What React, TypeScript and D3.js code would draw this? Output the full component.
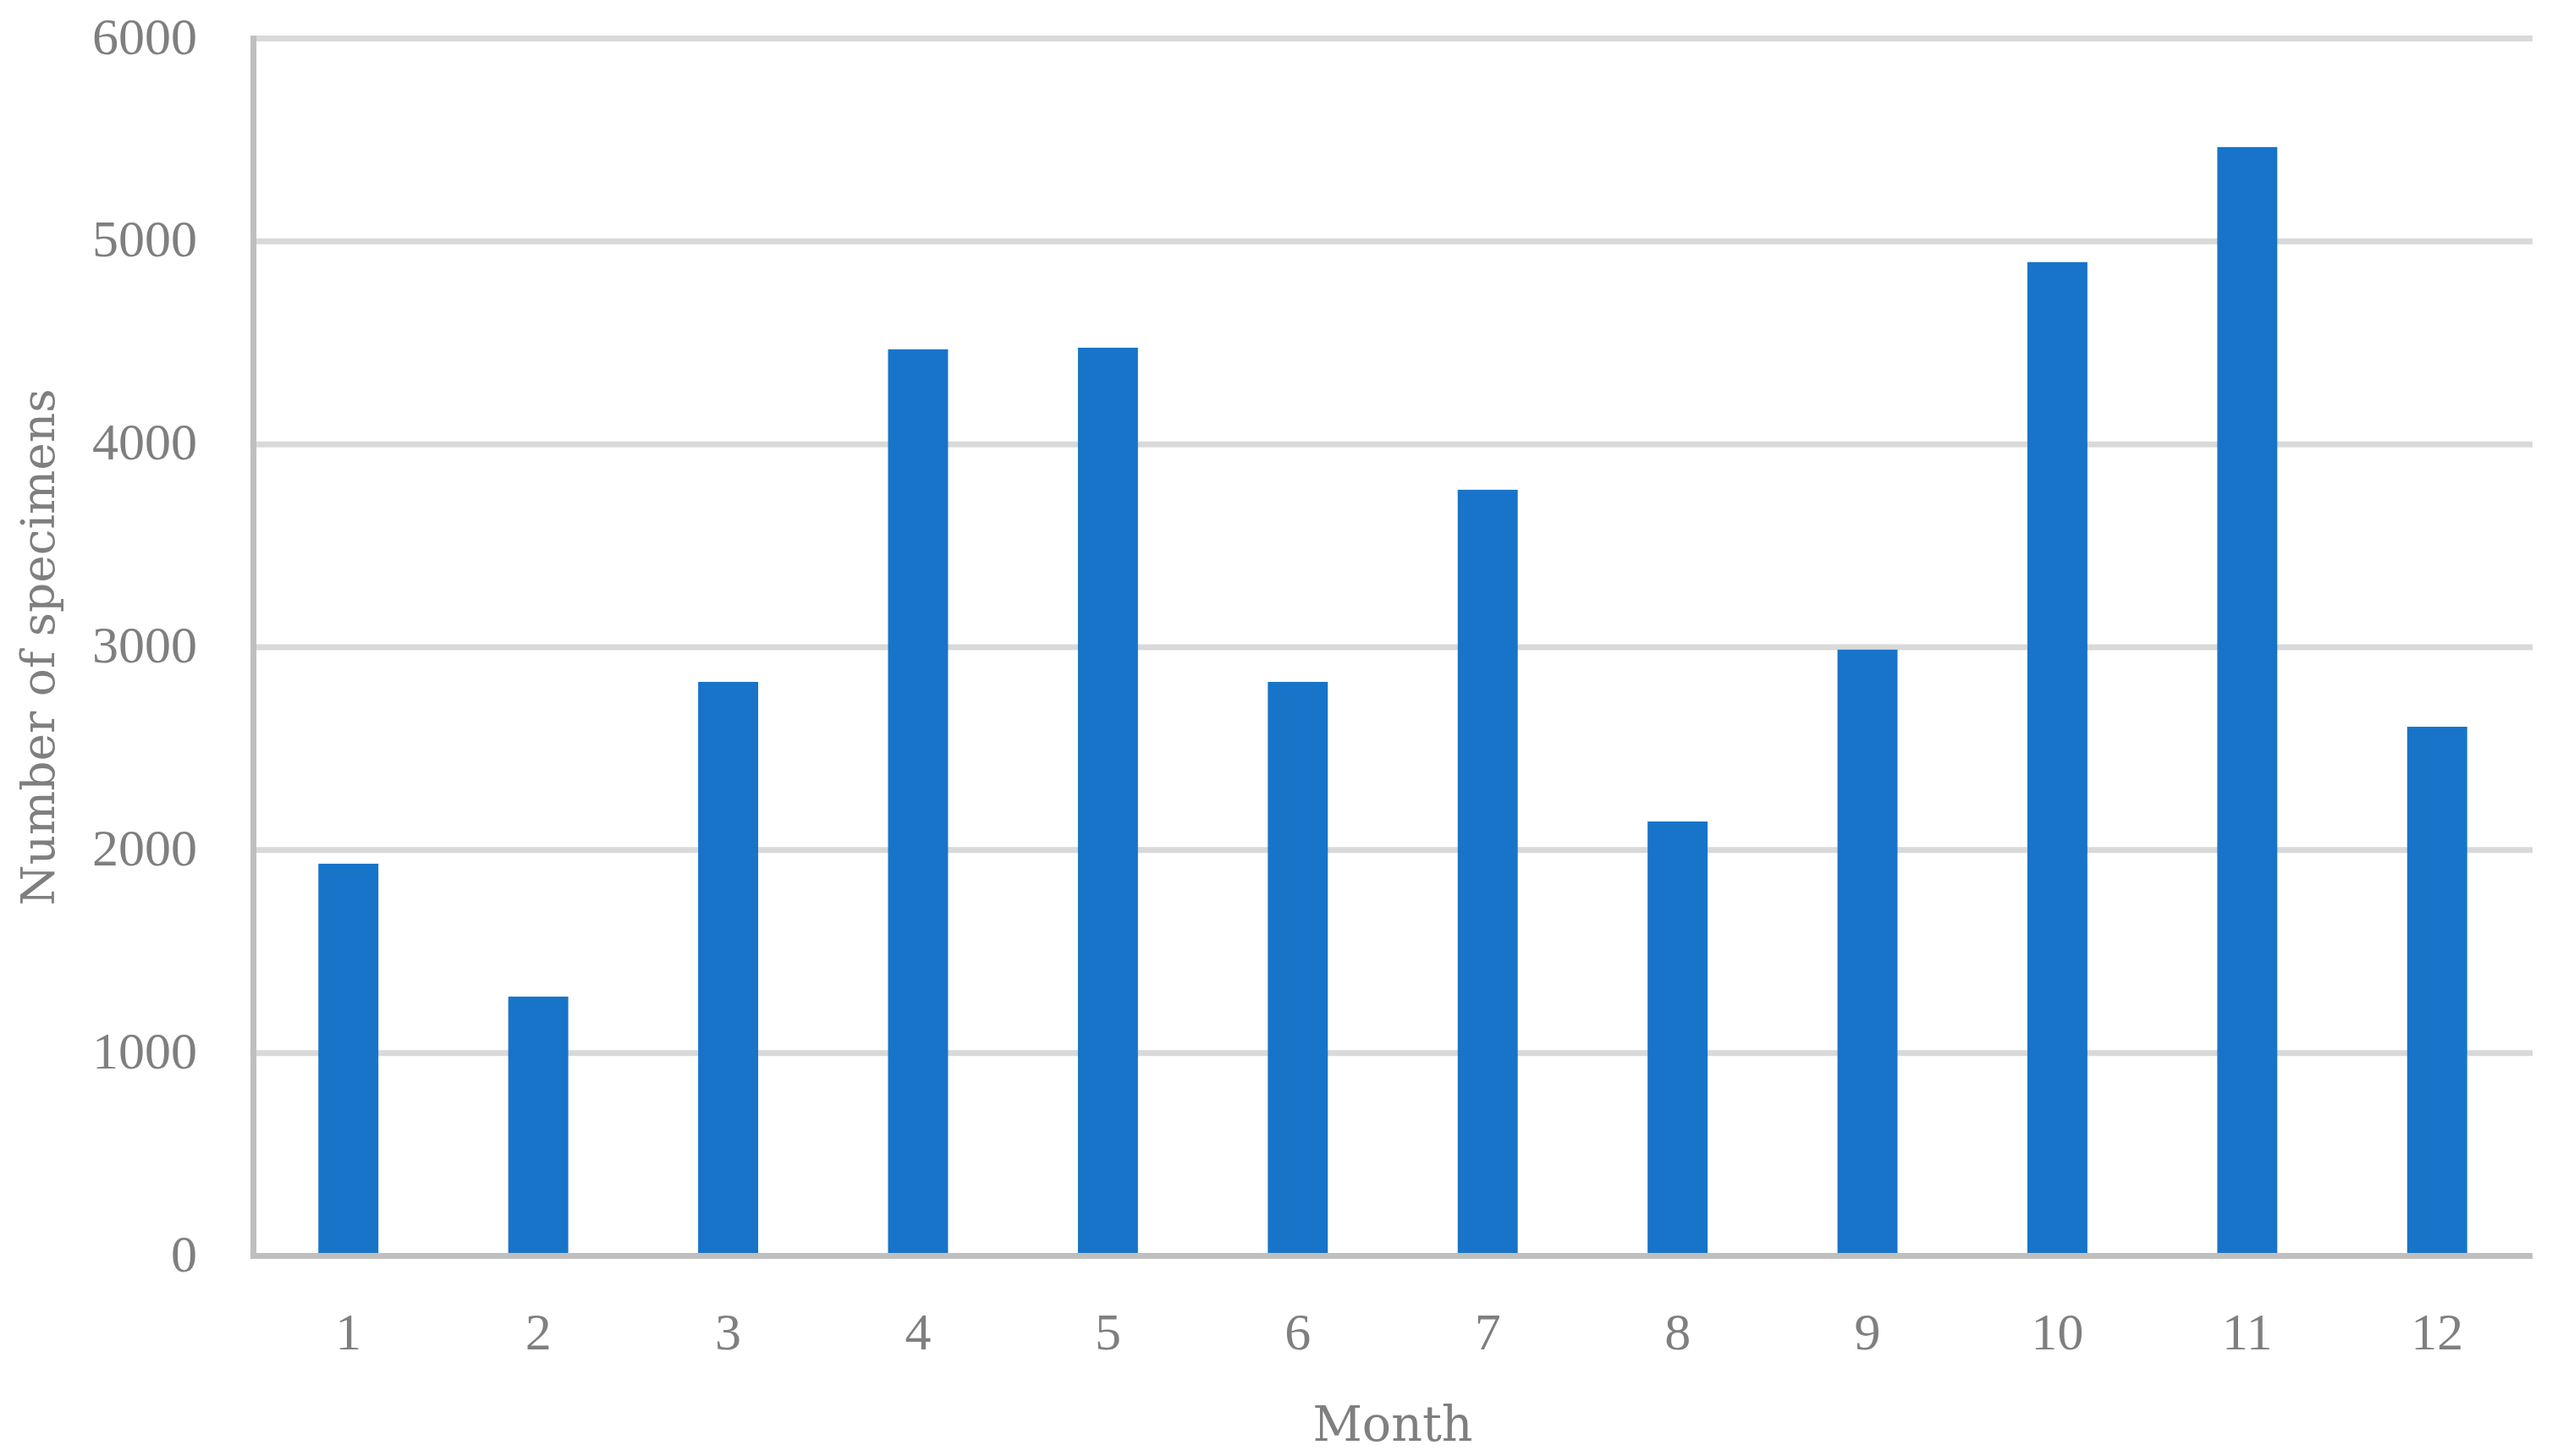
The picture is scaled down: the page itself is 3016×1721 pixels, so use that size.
import React from "react";
import * as d3 from "d3";

const months: string[] = ["1", "2", "3", "4", "5", "6", "7", "8", "9", "10", "11", "12"];
const specimens: number[] = [1933, 1278, 2829, 4468, 4476, 2829, 3776, 2141, 2988, 4898, 5465, 2608];
const yTicks: number[] = [0, 1000, 2000, 3000, 4000, 5000, 6000];
const xTitle = "Month";
const yTitle = "Number of specimens";

const W = 3016;
const H = 1721;
const left = 299.5;
const right = 2992.5;
const top = 45.5;
const bottom = 1484.5;

const gray = "#7f7f7f";
const tickFont = "'Liberation Serif', 'Times New Roman', serif";
const titleFont = "'DejaVu Serif', serif";

export default function App() {
  const x = d3
    .scaleBand<string>()
    .domain(months)
    .range([left, right])
    .paddingInner(0.684)
    .paddingOuter(0.342);
  const y = d3.scaleLinear().domain([0, 6000]).range([bottom, top]);

  return (
    <svg
      width={W}
      height={H}
      viewBox={`0 0 ${W} ${H}`}
      style={{ position: "absolute", left: 0, top: 0, background: "#ffffff" }}
    >
      <rect x={0} y={0} width={W} height={H} fill="#ffffff" />
      {/* gridlines */}
      {yTicks
        .filter((t) => t > 0)
        .map((t) => (
          <line
            key={"g" + t}
            x1={left}
            x2={right + 0.5}
            y1={y(t)}
            y2={y(t)}
            stroke="#d9d9d9"
            strokeWidth={7}
          />
        ))}
      {/* bars */}
      {specimens.map((v, i) => (
        <rect
          key={"b" + i}
          x={x(months[i])}
          y={y(v)}
          width={x.bandwidth()}
          height={y(0) - y(v)}
          fill="#1874c9"
        />
      ))}
      {/* axes */}
      <line x1={left} x2={left} y1={top - 3.5} y2={bottom + 3.5} stroke="#bfbfbf" strokeWidth={7} />
      <line x1={left - 3.5} x2={right + 0.5} y1={bottom} y2={bottom} stroke="#bfbfbf" strokeWidth={7} />
      {/* y tick labels */}
      {yTicks.map((t) => (
        <text
          key={"yt" + t}
          x={233}
          y={y(t) + 18}
          textAnchor="end"
          fontFamily={tickFont}
          fontSize={62}
          fill={gray}
        >
          {t}
        </text>
      ))}
      {/* x tick labels */}
      {months.map((m) => (
        <text
          key={"xt" + m}
          x={(x(m) as number) + x.bandwidth() / 2}
          y={1595}
          textAnchor="middle"
          fontFamily={tickFont}
          fontSize={62}
          fill={gray}
        >
          {m}
        </text>
      ))}
      {/* axis titles */}
      <text
        x={(left + right) / 2}
        y={1703}
        textAnchor="middle"
        fontFamily={titleFont}
        fontSize={57}
        fill={gray}
      >
        {xTitle}
      </text>
      <text
        transform={`translate(64, ${(top + bottom) / 2}) rotate(-90)`}
        textAnchor="middle"
        fontFamily={titleFont}
        fontSize={55}
        fill={gray}
      >
        {yTitle}
      </text>
    </svg>
  );
}
